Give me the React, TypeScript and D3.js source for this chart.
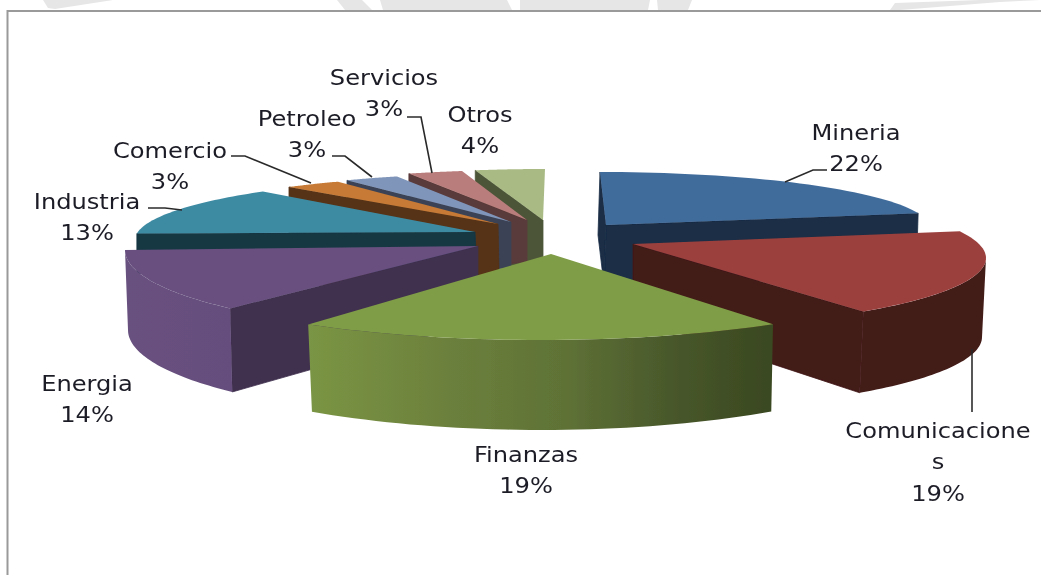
import React from "react";
import * as d3 from "d3";

// ---------- data ----------
const sectors = ["Mineria", "Comunicaciones", "Finanzas", "Energia", "Industria", "Comercio", "Petroleo", "Servicios", "Otros"];
const shares = [22, 19, 19, 14, 13, 3, 3, 3, 4];
const labelLines = [["Mineria"], ["Comunicacione", "s"], ["Finanzas"], ["Energia"], ["Industria"], ["Comercio"], ["Petroleo"], ["Servicios"], ["Otros"]];

// ---------- projection of every exploded slice (the 3D look of the reference) ----------
type Layout = {
  apex: number[]; apexBottom: number[];
  top: number[]; bottom: number[];     // cx, cy, rx, ry of upper and lower rim
  shift: number[];                     // perspective correction of the pie angles, degrees
  walls: string[];                     // visible cut faces
};
const layouts: Layout[] = [
  { apex: [606, 225], apexBottom: [604, 285], top: [600, 228, 330, 56], bottom: [598, 291, 330, 56], shift: [0, -4.6], walls: ["start", "end"] },
  { apex: [633, 244], apexBottom: [633, 318], top: [640, 258, 346, 70], bottom: [637, 337, 345, 73], shift: [-11.6, -7.8], walls: ["end"] },
  { apex: [551, 254], apexBottom: [551, 330], top: [540, 246, 420, 94], bottom: [541, 320, 415, 110], shift: [-1.3, -2.5], walls: [] },
  { apex: [478, 246], apexBottom: [478, 322], top: [478, 250, 353, 82], bottom: [478, 330, 350, 87], shift: [8.6, 3.6], walls: ["start"] },
  { apex: [475, 232], apexBottom: [477, 272], top: [475, 240, 340, 62], bottom: [475, 280, 340, 62], shift: [9.6, 8.2], walls: ["start"] },
  { apex: [498, 224], apexBottom: [499, 275], top: [498, 228, 330, 53], bottom: [498, 328, 330, 53], shift: [7.5, 7], walls: ["start"] },
  { apex: [511, 222], apexBottom: [511, 268], top: [511, 228, 330, 55], bottom: [511, 328, 330, 55], shift: [6.2, 5], walls: ["start"] },
  { apex: [527, 220], apexBottom: [527, 262], top: [525, 226, 330, 56], bottom: [525, 326, 330, 56], shift: [4.6, 3.4], walls: ["start"] },
  { apex: [543, 220], apexBottom: [543, 262], top: [545, 226, 330, 57], bottom: [545, 326, 330, 57], shift: [2.2, 0], walls: ["start"] },
];
const topColors = ["#416c9c", "#9c403e", "#7f9c47", "#67507f", "#3e8aa3", "#c67a35", "#7f95b9", "#b97e7c", "#a9ba85"];
const wallColors = ["#1a2d45", "#431a18", "#3c4a22", "#40304f", "#173743", "#573214", "#3a4356", "#5a3a3a", "#4d5539"];
const outerFills = ["#1a2d45", "#431a18", "url(#finWall)", "url(#eneWall)", "#173743", "#573214", "#3a4356", "#5a3a3a", "#4d5539"];
const drawOrder = [8, 7, 6, 5, 4, 3, 0, 1, 2];

const labelAnchors = [[856, 140], [938, 438], [526, 462], [87, 391], [87, 209], [170, 158], [307, 126], [384, 85], [480, 122]];
const leaders = [
  [[785, 182], [813, 170], [827, 170]],
  [[972, 349], [972, 412]],
  [],
  [],
  [[148, 208], [165, 208], [182, 210]],
  [[231, 156], [245, 156], [311, 183]],
  [[332, 156], [345, 156], [372, 177]],
  [[407, 117], [421, 117], [432, 173]],
  [],
];
const watermark = [
  [[43, 0], [113, 0], [55, 9], [48, 8]],
  [[337, 0], [362, 0], [372, 10], [345, 10]],
  [[380, 0], [507, 0], [512, 10], [383, 10]],
  [[520, 0], [650, 0], [648, 10], [520, 10]],
  [[657, 0], [692, 0], [688, 10], [658, 10]],
  [[890, 10], [895, 3], [980, 0], [1040, 0], [1000, 2], [900, 10]],
];
const LINE = 31.5;
const TEXT_STRETCH = 1.15;

const pie = d3.pie<number>().sort(null)(shares);
const line = d3.line();
const rad = Math.PI / 180;
const rim = (e: number[], deg: number): [number, number] => [
  e[0] + e[2] * Math.sin(deg * rad),
  e[1] - e[3] * Math.cos(deg * rad),
];
const degrees = d3.scaleLinear().domain([0, 2 * Math.PI]).range([0, 360]);

function geometry(i: number) {
  const l = layouts[i];
  const a0 = degrees(pie[i].startAngle) + l.shift[0];
  const a1 = degrees(pie[i].endAngle) + l.shift[1];
  const steps = d3.range(0, 41).map((k) => a0 + ((a1 - a0) * k) / 40);
  const topFace = line([l.apex as [number, number], ...steps.map((d) => rim(l.top, d))]) + "Z";
  const w0 = Math.max(a0, 90), w1 = Math.min(a1, 270);
  let outer: string | null = null;
  if (w1 > w0) {
    const ws = d3.range(0, 41).map((k) => w0 + ((w1 - w0) * k) / 40);
    outer = line([...ws.map((d) => rim(l.top, d)), ...ws.slice().reverse().map((d) => rim(l.bottom, d))]) + "Z";
  }
  const cut = (deg: number) =>
    line([l.apex as [number, number], rim(l.top, deg), rim(l.bottom, deg), l.apexBottom as [number, number]]) + "Z";
  const walls = l.walls.map((w) => cut(w === "start" ? a0 : a1));
  return { topFace, outer, walls };
}

export default function App() {
  return (
    <svg width={1041} height={575} style={{ position: "absolute", left: 0, top: 0, background: "#fff" }}
      fontFamily="'DejaVu Sans', sans-serif">
      <defs>
        <linearGradient id="finWall" gradientUnits="userSpaceOnUse" x1={308} x2={773} y1={0} y2={0}>
          <stop offset="0" stopColor="#7a9544" />
          <stop offset="0.3" stopColor="#6c803c" />
          <stop offset="0.55" stopColor="#5f7236" />
          <stop offset="0.8" stopColor="#47562a" />
          <stop offset="1" stopColor="#3a4820" />
        </linearGradient>
        <linearGradient id="eneWall" gradientUnits="userSpaceOnUse" x1={125} x2={233} y1={0} y2={0}>
          <stop offset="0" stopColor="#68517f" />
          <stop offset="1" stopColor="#654e7d" />
        </linearGradient>
        <filter id="soft" x="-2%" y="-2%" width="104%" height="104%">
          <feGaussianBlur stdDeviation="0.55" />
        </filter>
      </defs>
      <g filter="url(#soft)">
        {watermark.map((w, i) => (
          <path key={i} d={line(w as [number, number][]) + "Z"} fill="#e6e6e6" />
        ))}
        <path d="M7.5,575 V11 H1041" fill="#fff" stroke="#9a9a9a" strokeWidth={2} />
        {drawOrder.map((i) => {
          const g = geometry(i);
          return (
            <g key={sectors[i]}>
              {g.walls.map((d, k) => (
                <path key={k} d={d} fill={wallColors[i]} stroke={wallColors[i]} strokeWidth={0.8} />
              ))}
              {g.outer && <path d={g.outer} fill={outerFills[i]} />}
              <path d={g.topFace} fill={topColors[i]} />
            </g>
          );
        })}
        {leaders.map((pts, i) =>
          pts.length ? (
            <path key={i} d={line(pts as [number, number][]) ?? ""} fill="none" stroke="#2a2a2a" strokeWidth={1.6} />
          ) : null
        )}
        {sectors.map((s, i) => {
          const [x, y] = labelAnchors[i];
          const lines = [...labelLines[i], `${shares[i]}%`];
          return (
            <text key={s} transform={`translate(${x},${y}) scale(${TEXT_STRETCH},1)`} textAnchor="middle" fontSize={21} fill="#1c1c26">
              {lines.map((t, k) => (
                <tspan key={k} x={0} y={k * LINE}>{t}</tspan>
              ))}
            </text>
          );
        })}
      </g>
    </svg>
  );
}
